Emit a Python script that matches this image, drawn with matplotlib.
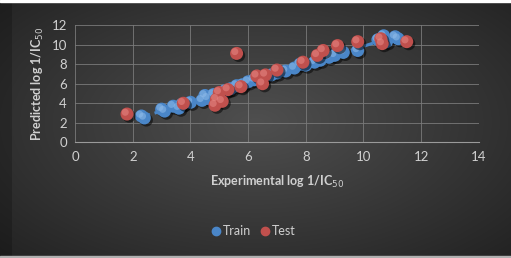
import numpy as np
import matplotlib.pyplot as plt
import matplotlib.transforms as mtransforms
import matplotlib.patheffects as pe
from matplotlib.lines import Line2D

plt.rcParams['font.family'] = ['Lato', 'DejaVu Sans']

# dane
train_x = [2.3, 2.4, 3.0, 3.1, 3.4, 3.6, 3.7, 4.0, 4.4, 4.5, 4.6, 4.8, 5.0, 5.2, 5.4,
           5.6, 5.8, 6.0, 6.2, 6.5, 6.8, 7.0, 7.3, 7.6, 7.8, 8.0, 8.3, 8.5, 8.8, 9.0,
           9.3, 9.8, 10.5, 10.7, 10.8, 11.1, 11.2]
train_y = [2.7, 2.5, 3.4, 3.2, 3.7, 3.5, 3.9, 4.1, 4.3, 4.8, 4.5, 4.9, 5.0, 5.3, 5.5,
           5.8, 5.9, 6.2, 6.4, 6.6, 6.9, 7.1, 7.3, 7.6, 8.0, 7.9, 8.2, 8.4, 8.7, 8.9,
           9.2, 9.4, 10.5, 10.9, 10.3, 10.8, 10.6]
test_x = [1.8, 3.75, 4.85, 4.9, 5.0, 5.1, 5.3, 5.6, 5.75, 6.3, 6.5, 6.6, 7.0, 7.9,
          8.4, 8.6, 9.1, 9.8, 10.6, 10.65, 11.5]
test_y = [2.9, 4.0, 3.8, 4.4, 5.1, 4.2, 5.4, 9.1, 5.7, 6.8, 6.0, 6.9, 7.4, 8.2,
          8.9, 9.4, 9.9, 10.3, 10.6, 10.1, 10.3]

xticks = [0, 2, 4, 6, 8, 10, 12, 14]
yticks = [0, 2, 4, 6, 8, 10, 12]

blue = '#4a86c8'
red = '#c0504d'
txt = '#d0d0d0'

fig = plt.figure(figsize=(5.11, 2.58), dpi=100)

# tło z gradientem
bg = fig.add_axes([0, 0, 1, 1], zorder=-10)
yy, xx = np.mgrid[-1:1:258j, -1:1:511j]
r = np.sqrt((xx * 0.95) ** 2 + ((yy + 0.05) * 0.9) ** 2)
shade = np.clip(0.31 - 0.13 * r, 0.14, 0.32)
shade[:, :12] *= 0.8  # ciemniejszy lewy brzeg
bg.imshow(np.dstack([shade] * 3), aspect='auto', extent=[0, 1, 0, 1])
bg.axhspan(0.992, 1.0, color='white')
bg.axhspan(0.0, 0.007, color='#b0b0b0')
bg.set_xlim(0, 1)
bg.set_ylim(0, 1)
bg.axis('off')

ax = fig.add_axes([0.147, 0.448, 0.79, 0.455])
ax.patch.set_alpha(0)
ax.set_xlim(0, 14)
ax.set_ylim(0, 12)
ax.set_xticks(xticks)
ax.set_yticks(yticks)
ax.grid(True, color='#7a7a7a', lw=0.6)
ax.set_axisbelow(True)
for s in ['top', 'right', 'left']:
    ax.spines[s].set_visible(False)
ax.spines['bottom'].set_color('#9a9a9a')
ax.tick_params(length=0, colors=txt, labelsize=9.5, pad=6)

# linia trendu
k, b = np.polyfit(train_x, train_y, 1)
lx = np.array([min(train_x), max(train_x)])
ax.plot(lx, k * lx + b, ls=(0, (3, 1.5)), color=blue, lw=2.2, zorder=2)

shadow = [pe.SimplePatchShadow(offset=(1.5, -1.5), shadow_rgbFace='black', alpha=0.5), pe.Normal()]
hl = mtransforms.offset_copy(ax.transData, fig=fig, x=-1.3, y=1.3, units='points')

def spheres(x, y, c, light, z):
    ax.scatter(x, y, s=88, color=c, edgecolors='none', zorder=z, path_effects=shadow)
    ax.scatter(x, y, s=26, color=light, edgecolors='none', zorder=z + 0.1, alpha=0.55,
               transform=hl)

spheres(train_x, train_y, blue, '#8fbbea', 3)
spheres(test_x, test_y, red, '#e88a86', 4)

ax.set_xlabel('Experimental log 1/IC$_{50}$', color=txt, fontsize=9, fontweight='bold',
              labelpad=8)
ax.set_ylabel('Predicted log 1/IC$_{50}$', color=txt, fontsize=9, fontweight='bold',
              labelpad=4)

handles = [Line2D([], [], ls='none', marker='o', color=blue, markersize=6),
           Line2D([], [], ls='none', marker='o', color=red, markersize=6)]
leg = fig.legend(handles, ['Train', 'Test'], loc='center', bbox_to_anchor=(0.495, 0.105),
                 ncol=2, frameon=False, fontsize=9, handletextpad=0.05,
                 columnspacing=0.6, handlelength=1.0, labelcolor=txt)

fig.savefig('out.png', dpi=100)
